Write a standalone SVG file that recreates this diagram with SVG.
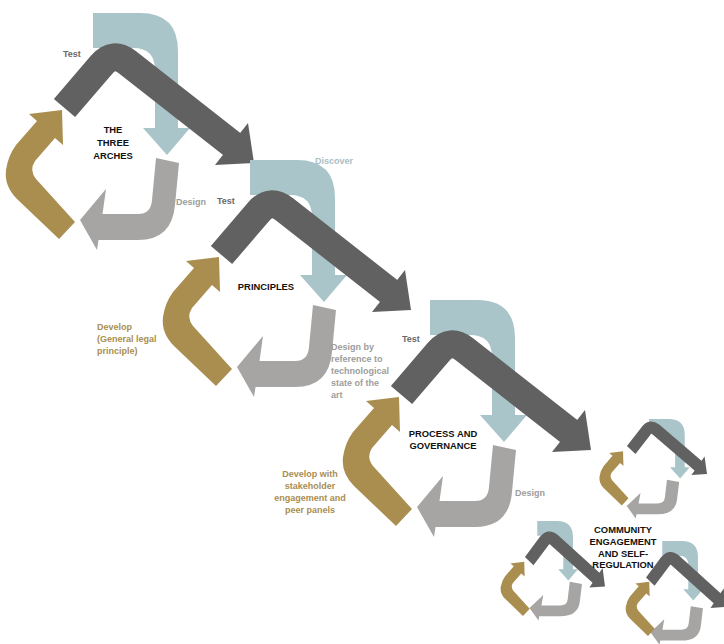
<svg xmlns="http://www.w3.org/2000/svg" xmlns:xlink="http://www.w3.org/1999/xlink" width="724" height="644" viewBox="0 0 724 644">
<style>
.lb{fill:#a9c5c9}
.dk{fill:#616161}
.dks{fill:none;stroke:#616161;stroke-width:28;stroke-linecap:butt;stroke-linejoin:round}
.gr{fill:#a6a5a3}
.gd{fill:#a98e50}
text{font-family:"Liberation Sans",Arial,sans-serif;font-weight:bold;font-size:9px}
.t{fill:#6a6a6a}
.d{fill:#9d9d9d}
.v{fill:#a9c0c4}
.g{fill:#a98e50}
.h{fill:#111111;font-size:9.4px;text-anchor:middle}
</style>
<defs>
<path id="lbA" class="lb" d="M93,13 H140 Q178,13 178,51 V128 H190 L167,155 L143,128 H155 V70 Q155,48 133,48 H93 Z"/>
<g id="dkA">
<path class="dks" d="M64.5,108 L101.5,64.8 Q113.2,51.1 127.4,62.3 L233,145"/>
<polygon class="dk" points="248,123 254,163 215,165"/>
</g>
<path id="grA" class="gr" d="M156,158 L179,163 L175,205 Q172,240 138,240 L98.5,240 L97,250 L80,220 L106,189 L102.5,214 L138,214 Q151,214 152,200 Z"/>
<path id="gdA" class="gd" d="M75,222 L59,239 L17,199 Q4,186 6,170 Q8,156 16,145 L37,121 L29,114 L62,110 L63,145 L55,138 L35,161 Q29,170 36,179 Z"/>
<g id="cycle">
<use xlink:href="#lbA"/>
<use xlink:href="#dkA"/>
<use xlink:href="#grA"/>
<use xlink:href="#gdA"/>
</g>
</defs>

<g id="connectors"></g>

<g id="cycle-arches">
<use xlink:href="#cycle"/>
<text class="t" x="63" y="57">Test</text>
<text class="h" x="113"><tspan x="113" y="133">THE</tspan><tspan x="113" y="146">THREE</tspan><tspan x="113" y="158.5">ARCHES</tspan></text>
<text class="d" x="176" y="204.5">Design</text>
</g>

<g id="cycle-principles">
<use xlink:href="#cycle" transform="translate(157,147)"/>
<text class="t" x="217" y="204">Test</text>
<text class="v" x="315" y="164">Discover</text>
<text class="h" x="266" y="289.5">PRINCIPLES</text>
<text class="d"><tspan x="331" y="350">Design by</tspan><tspan x="331" y="362">reference to</tspan><tspan x="331" y="374">technological</tspan><tspan x="331" y="386">state of the</tspan><tspan x="331" y="398">art</tspan></text>
<text class="g"><tspan x="97" y="330">Develop</tspan><tspan x="97" y="342">(General legal</tspan><tspan x="97" y="354">principle)</tspan></text>
</g>

<g id="cycle-process">
<use xlink:href="#cycle" transform="translate(337,287)"/>
<text class="t" x="402" y="342">Test</text>
<text class="h"><tspan x="443" y="436.5">PROCESS AND</tspan><tspan x="443" y="448.5">GOVERNANCE</tspan></text>
<text class="d" x="515" y="496">Design</text>
<text class="g" text-anchor="middle"><tspan x="310" y="477">Develop with</tspan><tspan x="310" y="489">stakeholder</tspan><tspan x="310" y="501">engagement and</tspan><tspan x="310" y="513">peer panels</tspan></text>
</g>

<g id="cycle-community">
<g id="small-a">
<use xlink:href="#lbA" transform="translate(610,413.5) scale(0.42)"/>
<use xlink:href="#dkA" transform="translate(605.4,402.4) scale(0.4,0.44)"/>
<use xlink:href="#grA" transform="translate(584.3,413.5) scale(0.53,0.42)"/>
<use xlink:href="#gdA" transform="translate(597,405) scale(0.42)"/>
</g>
<g id="small-b">
<use xlink:href="#lbA" transform="translate(498.2,515.5) scale(0.42)"/>
<use xlink:href="#dkA" transform="translate(503.4,511.5) scale(0.4,0.46)"/>
<use xlink:href="#grA" transform="translate(487.1,515.5) scale(0.53,0.42)"/>
<use xlink:href="#gdA" transform="translate(498.2,515.5) scale(0.42)"/>
</g>
<g id="small-c">
<use xlink:href="#lbA" transform="translate(623.2,535.5) scale(0.42)"/>
<use xlink:href="#dkA" transform="translate(624.5,532) scale(0.4,0.46)"/>
<use xlink:href="#grA" transform="translate(608.1,539.8) scale(0.53,0.42)"/>
<use xlink:href="#gdA" transform="translate(623.2,535.5) scale(0.42)"/>
</g>
<text class="h"><tspan x="623" y="533">COMMUNITY</tspan><tspan x="623" y="545">ENGAGEMENT</tspan><tspan x="623" y="556.5">AND SELF-</tspan><tspan x="623" y="568">REGULATION</tspan></text>
</g>
</svg>
